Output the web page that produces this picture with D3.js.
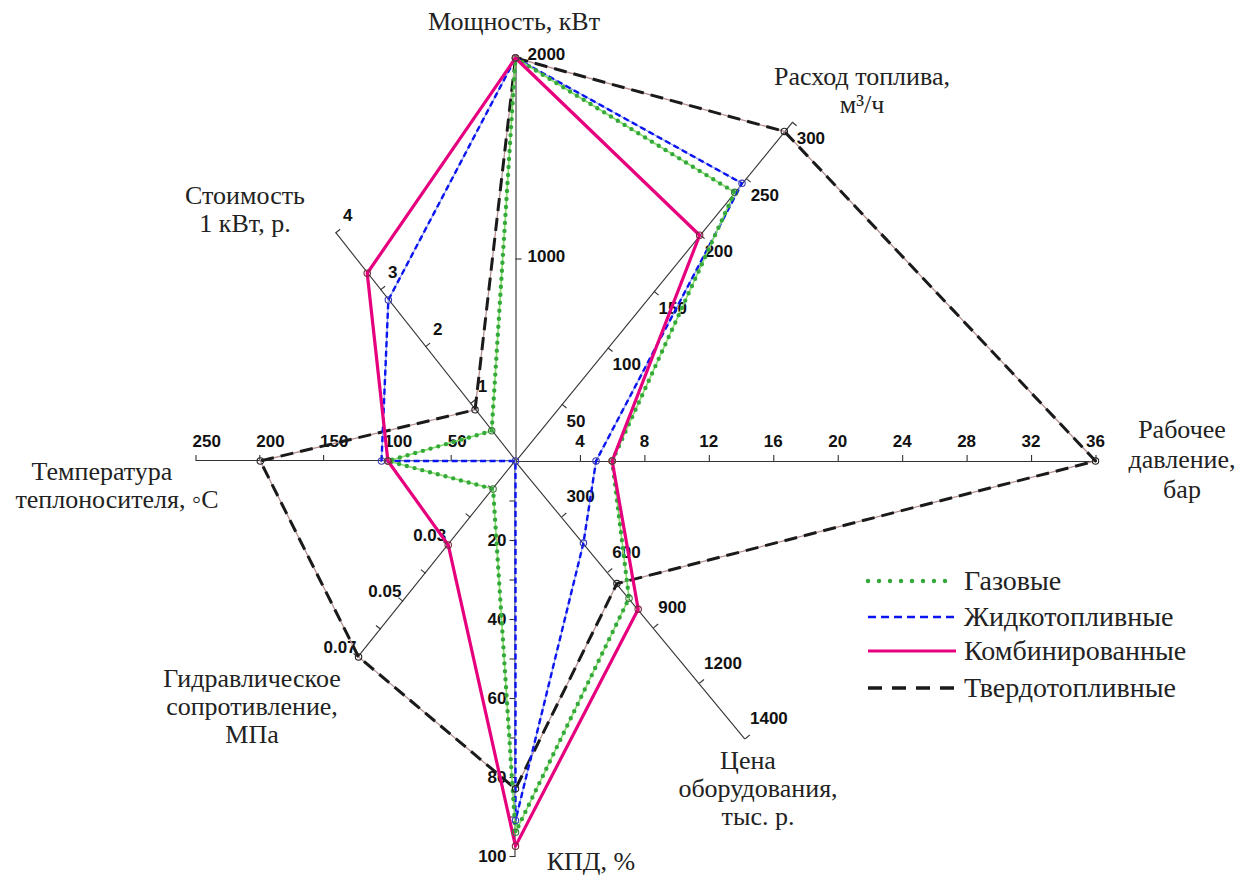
<!DOCTYPE html>
<html>
<head>
<meta charset="utf-8">
<script src="https://cdn.jsdelivr.net/npm/d3@7"></script>
<style>
  html, body { margin: 0; padding: 0; background: #fff; }
  svg { display: block; }
  .title { font-family: "Liberation Serif", "Times New Roman", serif; font-size: 26px; fill: #222; }
  .tick-label { font-family: "Liberation Sans", Arial, sans-serif; font-weight: bold; font-size: 17px; fill: #111; }
  .legend-text { font-family: "Liberation Serif", "Times New Roman", serif; font-size: 28px; fill: #222; }
</style>
</head>
<body>
<svg id="chart" width="1246" height="879"></svg>
<script>
// ---------------- data ----------------
const axisKeys = ["power", "fuel", "pressure", "price", "efficiency", "hydraulic", "temperature", "cost"];
const axisMaxima = [2000, 300, 36, 1400, 100, 0.07, 250, 4];

const powerTicks = [1000, 2000];
const fuelTicks = [50, 100, 150, 200, 250, 300];
const pressureTicks = [4, 8, 12, 16, 20, 24, 28, 32, 36];
const priceTicks = [300, 600, 900, 1200, 1400];
const efficiencyTicks = [10, 20, 30, 40, 50, 60, 70, 80, 90, 100];
const efficiencyLabels = [20, 40, 60, 80, 100];
const hydraulicTicks = [0.01, 0.02, 0.03, 0.04, 0.05, 0.06, 0.07];
const hydraulicLabels = [0.03, 0.05, 0.07];
const temperatureTicks = [50, 100, 150, 200, 250];
const costTicks = [1, 2, 3, 4];

const seriesNames = ["Газовые", "Жидкотопливные", "Комбинированные", "Твердотопливные"];
// order of values follows axisKeys
const gasValues      = [2000, 238, 6, 742, 94, 0.01, 100, 0.53];
const liquidValues   = [2000, 246, 5, 444, 91, 0.0, 105, 2.83];
const combinedValues = [2000, 200, 6, 802, 97.5, 0.03, 100, 3.3];
const solidValues    = [2000, 292, 36, 663, 83, 0.07, 200, 0.9];

const axisTitles = {
  power: ["Мощность, кВт"],
  fuel: ["Расход топлива,", "м³/ч"],
  pressure: ["Рабочее", "давление,", "бар"],
  price: ["Цена", "оборудования,", "тыс. р."],
  efficiency: ["КПД, %"],
  hydraulic: ["Гидравлическое", "сопротивление,", "МПа"],
  temperature: ["Температура", "теплоносителя, ◦С"],
  cost: ["Стоимость", "1 кВт, р."]
};

// ---------------- layout ----------------
const svg = d3.select("#chart");
const cx = 515.5, cy = 461;

const geom = {
  power:       { angle: 90,     len: 403, side: "bottom", ticks: powerTicks,       labels: powerTicks,       fmt: d => String(d) },
  fuel:        { angle: 50.8,   len: 437, side: "bottom", ticks: fuelTicks,        labels: fuelTicks,        fmt: d => String(d) },
  pressure:    { angle: 0,      len: 580, side: "top",    ticks: pressureTicks,    labels: pressureTicks,    fmt: d => String(d) },
  price:       { angle: -50.4,  len: 360, side: "top",    ticks: priceTicks,       labels: priceTicks,       fmt: d => String(d) },
  efficiency:  { angle: -90,    len: 395, side: "bottom", ticks: efficiencyTicks,  labels: efficiencyLabels, fmt: d => String(d) },
  hydraulic:   { angle: -128.7, len: 251, side: "bottom", ticks: hydraulicTicks,   labels: hydraulicLabels,  fmt: d => d.toFixed(2) },
  temperature: { angle: 180,    len: 319, side: "bottom", ticks: temperatureTicks, labels: temperatureTicks, fmt: d => String(d) },
  cost:        { angle: 128.3,  len: 290, side: "bottom", ticks: costTicks,        labels: costTicks,        fmt: d => String(d) }
};

axisKeys.forEach((k, i) => {
  const g = geom[k];
  if (k === "price") {
    g.scale = d3.scaleLinear().domain([0, 1200, axisMaxima[i]]).range([0, 288, g.len]);
  } else {
    g.scale = d3.scaleLinear().domain([0, axisMaxima[i]]).range([0, g.len]);
  }
});

function pointAt(k, d) {
  const a = geom[k].angle * Math.PI / 180;
  return [cx + d * Math.cos(a), cy - d * Math.sin(a)];
}

// ---------------- axes ----------------
const axesG = svg.append("g");
axisKeys.forEach(k => {
  const g = geom[k];
  const axisFn = g.side === "top" ? d3.axisTop(g.scale) : d3.axisBottom(g.scale);
  axisFn.tickValues(g.ticks).tickSize(6).tickSizeOuter(0).tickFormat("");
  const ag = axesG.append("g")
    .attr("transform", `translate(${cx},${cy}) rotate(${-g.angle})`)
    .call(axisFn);
  ag.selectAll(".domain").attr("stroke", "#333").attr("stroke-width", 1.1);
  ag.selectAll(".tick line").attr("stroke", "#333").attr("stroke-width", 1.1);
});

// tick labels
const labelOffsets = {
  power:       { dx: 12,  dy: 2,   anchor: "start" },
  fuel:        { dx: 5,   dy: 22,  anchor: "start" },
  pressure:    { dx: 0,   dy: -14, anchor: "middle" },
  price:       { dx: 5,   dy: -14, anchor: "start" },
  efficiency:  { dx: -9,  dy: 6,   anchor: "end" },
  hydraulic:   { dx: -2,  dy: -4,  anchor: "end" },
  temperature: { dx: -4,  dy: -14, anchor: "start" },
  cost:        { dx: 12,  dy: -12, anchor: "middle" }
};
axisKeys.forEach(k => {
  const g = geom[k], o = labelOffsets[k];
  g.labels.forEach(v => {
    const p = pointAt(k, g.scale(v));
    axesG.append("text").attr("class", "tick-label")
      .attr("x", p[0] + o.dx).attr("y", p[1] + o.dy)
      .attr("text-anchor", o.anchor)
      .text(g.fmt(v));
  });
});

// ---------------- series ----------------
const seriesValues = [gasValues, liquidValues, combinedValues, solidValues];
const styles = [
  { under: { stroke: "#86e06a", width: 1.6 }, main: { stroke: "#34a83a", width: 4.4, dash: "0 8", cap: "round" }, marker: "#3a7a3a" },
  { under: { stroke: "#8f9cf0", width: 1.2 }, main: { stroke: "#0a14f0", width: 2.4, dash: "6 3.5", cap: "butt" }, marker: "#3a3ab0" },
  { under: null, main: { stroke: "#e6007e", width: 3.2, dash: null, cap: "butt" }, marker: "#7a2a3a" },
  { under: { stroke: "#b89090", width: 1.3 }, main: { stroke: "#1a1a1a", width: 3, dash: "13 7", cap: "butt" }, marker: "#222" }
];
const drawOrder = [3, 1, 0, 2];

const line = d3.line().curve(d3.curveLinearClosed);
const seriesG = svg.append("g");

function seriesPoints(vals) {
  return axisKeys.map((k, i) => pointAt(k, geom[k].scale(vals[i])));
}

drawOrder.forEach(si => {
  const pts = seriesPoints(seriesValues[si]);
  const st = styles[si];
  if (st.under) {
    seriesG.append("path").attr("d", line(pts)).attr("fill", "none")
      .attr("stroke", st.under.stroke).attr("stroke-width", st.under.width);
  }
  seriesG.append("path").attr("d", line(pts)).attr("fill", "none")
    .attr("stroke", st.main.stroke).attr("stroke-width", st.main.width)
    .attr("stroke-dasharray", st.main.dash).attr("stroke-linecap", st.main.cap)
    .attr("stroke-linejoin", "round");
});
drawOrder.forEach(si => {
  const pts = seriesPoints(seriesValues[si]);
  seriesG.selectAll(null).data(pts).enter().append("circle")
    .attr("cx", d => d[0]).attr("cy", d => d[1]).attr("r", 3.2)
    .attr("fill", "none").attr("stroke", styles[si].marker).attr("stroke-width", 1.1);
});

// ---------------- titles ----------------
const titlePos = {
  power:       { x: 514,  y: 30,  lh: 28 },
  fuel:        { x: 862,  y: 85,  lh: 28 },
  pressure:    { x: 1182, y: 438, lh: 30 },
  price:       { x: 758,  y: 769, lh: 28 },
  efficiency:  { x: 591,  y: 870, lh: 28 },
  hydraulic:   { x: 252,  y: 687, lh: 28 },
  temperature: { x: 117,  y: 480, lh: 28 },
  cost:        { x: 245,  y: 204, lh: 28 }
};
const titleG = svg.append("g");
axisKeys.forEach(k => {
  const p = titlePos[k];
  const t = titleG.append("text").attr("class", "title").attr("text-anchor", "middle");
  axisTitles[k].forEach((ln, j) => {
    let dxAdj = 0;
    if (k === "temperature" && j === 0) dxAdj = -15;
    if (k === "price" && j === 0) dxAdj = -10;
    t.append("tspan").attr("x", p.x + dxAdj).attr("y", p.y + j * p.lh).text(ln);
  });
});

// ---------------- legend ----------------
const legendY = [581, 617, 651, 688];
const legendG = svg.append("g");
seriesNames.forEach((name, si) => {
  const st = styles[si];
  const y = legendY[si];
  const lineG = legendG.append("line").attr("x1", 868).attr("x2", 956).attr("y1", y).attr("y2", y)
    .attr("stroke", st.main.stroke).attr("stroke-width", st.main.width + (si === 3 ? 0.5 : 0))
    .attr("stroke-linecap", st.main.cap);
  if (si === 0) lineG.attr("stroke-dasharray", "0 11");
  else if (si === 1) lineG.attr("stroke-dasharray", "8 5");
  else if (si === 3) lineG.attr("stroke-dasharray", "14 10");
  legendG.append("text").attr("class", "legend-text").attr("x", 964).attr("y", y + 9).text(name);
});
</script>
</body>
</html>
